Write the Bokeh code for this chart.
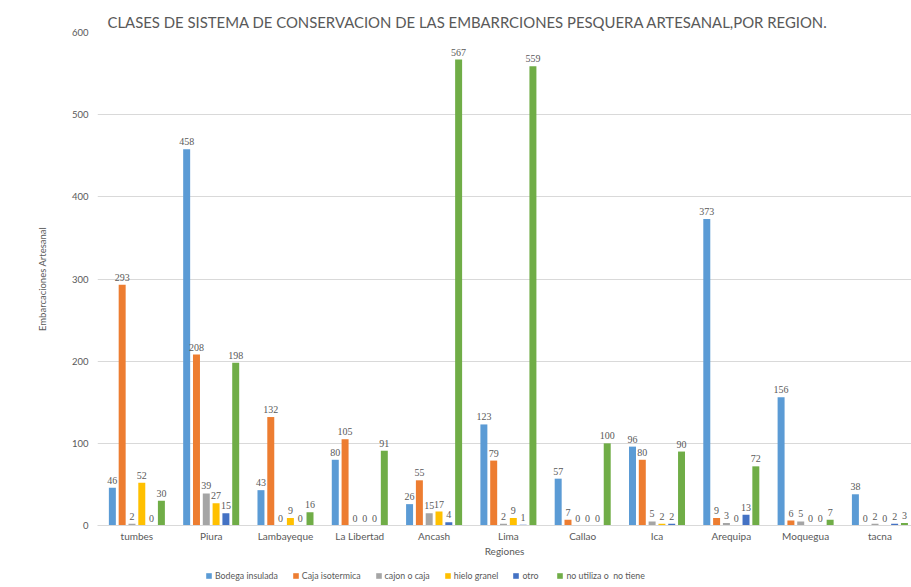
import numpy as np
from bokeh.plotting import figure
from bokeh.layouts import column
from bokeh.models import (ColumnDataSource, Range1d, FixedTicker, LabelSet, Legend, LegendItem)
from bokeh.transform import dodge
from bokeh.embed import file_html
from bokeh.resources import INLINE

regiones = ["tumbes", "Piura", "Lambayeque", "La Libertad", "Ancash", "Lima",
            "Callao", "Ica", "Arequipa", "Moquegua", "tacna"]
bodega_insulada = [46, 458, 43, 80, 26, 123, 57, 96, 373, 156, 38]
caja_isotermica = [293, 208, 132, 105, 55, 79, 7, 80, 9, 6, 0]
cajon_o_caja = [2, 39, 0, 0, 15, 2, 0, 5, 3, 5, 2]
hielo_granel = [52, 27, 9, 0, 17, 9, 0, 2, 0, 0, 0]
otro = [0, 15, 0, 0, 4, 1, 0, 2, 13, 0, 2]
no_utiliza = [30, 198, 16, 91, 567, 559, 100, 90, 72, 7, 3]

series = [
    ("Bodega insulada", bodega_insulada, "#5B9BD5"),
    ("Caja isotermica", caja_isotermica, "#ED7D31"),
    ("cajon o caja", cajon_o_caja, "#A5A5A5"),
    ("hielo granel", hielo_granel, "#FFC000"),
    ("otro", otro, "#4472C4"),
    ("no utiliza o  no tiene", no_utiliza, "#70AD47"),
]
y_ticks = [0, 100, 200, 300, 400, 500, 600]

FONT = "Lato"
TXT = "#595959"

p = figure(width=911, height=562, output_backend="svg", toolbar_location=None,
           x_range=Range1d(-0.53, 10.425), y_range=Range1d(0, 600),
           min_border_left=97, min_border_right=0, min_border_top=32, min_border_bottom=37)
p.title.text = "CLASES DE SISTEMA DE CONSERVACION DE LAS EMBARRCIONES PESQUERA ARTESANAL,POR REGION."
p.title.text_font = FONT
p.title.text_font_size = "14.9px"
p.title.text_font_style = "normal"
p.title.text_color = TXT
p.title.offset = 10
p.title.standoff = 4
p.outline_line_color = None
p.background_fill_color = "white"

src = {"x": list(range(len(regiones)))}
for i, (name, vals, col) in enumerate(series):
    src["s%d" % i] = vals
    src["l%d" % i] = [str(v) for v in vals]
source = ColumnDataSource(src)

step = 0.132
for i, (name, vals, col) in enumerate(series):
    off = (i - 2.5) * step
    p.vbar(x=dodge("x", off, range=p.x_range), top="s%d" % i, width=0.094,
           source=source, fill_color=col, line_color=None)
    lbl = LabelSet(x=dodge("x", off, range=p.x_range), y="s%d" % i, text="l%d" % i,
                   source=source, text_align="center", text_baseline="bottom",
                   y_offset=4, text_font_size="10px", text_color=TXT)
    lbl.text_font = FONT
    p.add_layout(lbl)

p.yaxis.ticker = FixedTicker(ticks=y_ticks)
p.yaxis.axis_line_color = None
p.yaxis.major_tick_line_color = None
p.yaxis.minor_tick_line_color = None
p.yaxis.major_label_text_font = FONT
p.yaxis.major_label_text_font_size = "9.5px"
p.yaxis.major_label_text_color = TXT
p.yaxis.major_label_standoff = 3
p.yaxis.axis_label = "Embarcaciones Artesanal"
p.yaxis.axis_label_text_font = FONT
p.yaxis.axis_label_text_font_size = "9.5px"
p.yaxis.axis_label_text_font_style = "normal"
p.yaxis.axis_label_text_color = TXT
p.yaxis.axis_label_standoff = 21

p.xaxis.ticker = FixedTicker(ticks=list(range(len(regiones))))
p.xaxis.major_label_overrides = {i: r for i, r in enumerate(regiones)}
p.xaxis.axis_line_color = "#D9D9D9"
p.xaxis.major_tick_line_color = None
p.xaxis.minor_tick_line_color = None
p.xaxis.major_label_text_font = FONT
p.xaxis.major_label_text_font_size = "10px"
p.xaxis.major_label_text_color = TXT
p.xaxis.major_label_standoff = -2
p.xaxis.axis_label = "Regiones"
p.xaxis.axis_label_text_font = FONT
p.xaxis.axis_label_text_font_size = "10px"
p.xaxis.axis_label_text_font_style = "normal"
p.xaxis.axis_label_text_color = TXT
p.xaxis.axis_label_standoff = 0

p.xgrid.grid_line_color = None
p.ygrid.grid_line_color = "#D9D9D9"

# legend strip (same series renderers, kept outside its visible range)
lg = figure(width=911, height=25, output_backend="svg", toolbar_location=None,
            x_axis_type=None, y_axis_type=None,
            x_range=Range1d(-0.53, 10.425), y_range=Range1d(1000, 1001),
            min_border_left=97, min_border_right=0, min_border_top=0, min_border_bottom=0)
lg.grid.grid_line_color = None
lg.outline_line_color = None
items = []
for i, (name, vals, col) in enumerate(series):
    r = lg.vbar(x="x", top="s%d" % i, width=0.094, source=source,
                fill_color=col, line_color=None)
    items.append(LegendItem(label=name, renderers=[r]))
legend = Legend(items=items, orientation="horizontal", location=(108, 6),
                label_text_font=FONT, label_text_font_size="8.8px", label_text_color=TXT,
                glyph_width=7, glyph_height=7, spacing=14, label_standoff=3,
                border_line_color=None, background_fill_alpha=0, padding=4, margin=0)
lg.add_layout(legend, "center")

layout = column(p, lg, spacing=0)
open("out.html", "w").write(file_html(layout, INLINE))
